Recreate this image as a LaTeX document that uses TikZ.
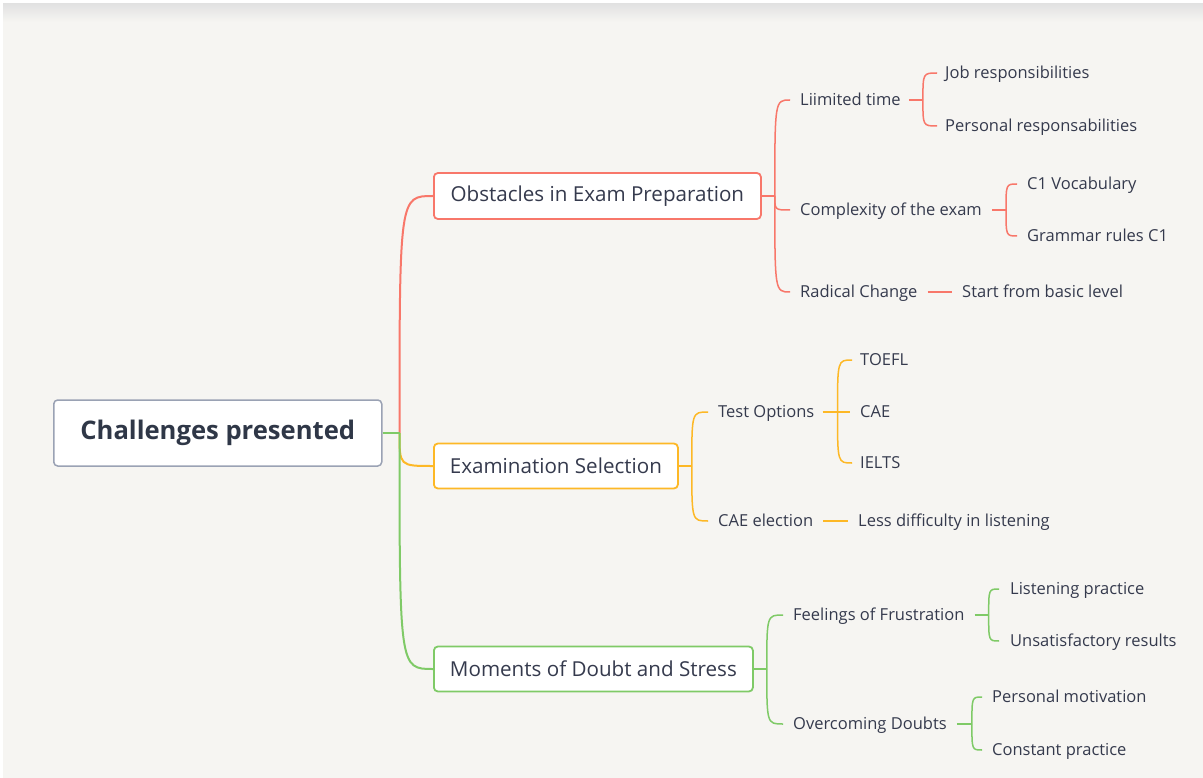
\documentclass[tikz,border=0pt]{standalone}
\usepackage{fontspec}
\setmainfont{Open Sans}
\usetikzlibrary{calc}
\definecolor{bg}{HTML}{F6F5F2}
\definecolor{shd}{HTML}{E2E2E2}
\definecolor{rd}{HTML}{F8776A}
\definecolor{yl}{HTML}{FDB826}
\definecolor{gr}{HTML}{7FCA67}
\definecolor{txt}{HTML}{353A4D}
\definecolor{roottxt}{HTML}{2F3747}
\definecolor{rootline}{HTML}{9AA2B4}
\begin{document}
\begin{tikzpicture}[x=1pt,y=-1pt,
  leaf/.style={anchor=west,inner sep=0pt,text=txt,font=\fontsize{16.5}{19}\selectfont,text height=11.8pt,text depth=0pt},
  mainbox/.style={anchor=west,draw,line width=1.8pt,rounded corners=4pt,fill=white,text=txt,font=\fontsize{20.6}{24}\selectfont,minimum height=45pt,inner sep=0pt},
  link/.style={line width=1.5pt},
  trunk/.style={line width=2pt}]
\fill[white] (0,0) rectangle (1203,778);
\fill[bg] (3,4) rectangle (1203,778);
\shade[top color=shd,bottom color=bg] (3,4) rectangle (1203,22);
\useasboundingbox (0,0) rectangle (1203,778);

% main nodes
\node[mainbox,draw=rootline,line width=1.5pt,minimum width=328pt,minimum height=66pt,text=roottxt,font=\bfseries\fontsize{25.6}{30}\selectfont] (root) at (53,433) {Challenges presented};
\node[mainbox,draw=rd,minimum width=327pt,minimum height=46pt] (obs) at (433,196) {Obstacles in Exam Preparation};
\node[mainbox,draw=yl,minimum width=244pt] (exa) at (433,466) {Examination Selection};
\node[mainbox,draw=gr,minimum width=319pt] (mom) at (433,669) {Moments of Doubt and Stress};

% leaves
\node[leaf] (lt) at (800,100) {Liimited time};
\node[leaf] (job) at (945,73) {Job responsibilities};
\node[leaf] (per) at (945,126) {Personal responsabilities};
\node[leaf] (cx) at (800,210) {Complexity of the exam};
\node[leaf] (voc) at (1027,184) {C1 Vocabulary};
\node[leaf] (gra) at (1027,236) {Grammar rules C1};
\node[leaf] (rad) at (800,292) {Radical Change};
\node[leaf] (sta) at (962,292) {Start from basic level};
\node[leaf] (tst) at (718,412) {Test Options};
\node[leaf] (toe) at (860,360) {TOEFL};
\node[leaf] (cae) at (860,412) {CAE};
\node[leaf] (iel) at (860,463) {IELTS};
\node[leaf] (cel) at (718,521) {CAE election};
\node[leaf] (les) at (858,521) {Less difficulty in listening};
\node[leaf] (fee) at (793,615) {Feelings of Frustration};
\node[leaf] (lis) at (1010,589) {Listening practice};
\node[leaf] (uns) at (1010,641) {Unsatisfactory results};
\node[leaf] (ove) at (793,724) {Overcoming Doubts};
\node[leaf] (pmo) at (992,697) {Personal motivation};
\node[leaf] (con) at (992,750) {Constant practice};

% root connectors
\coordinate (rj) at ($(root.east)+(17,0)$);
\draw[trunk,rd] (rj) .. controls (rj |- obs.west) .. (obs.west);
\draw[trunk,yl] (rj) .. controls (rj |- exa.west) .. (exa.west);
\draw[trunk,gr] (rj) .. controls (rj |- mom.west) .. (mom.west);
\draw[trunk,gr] (root.east) -- (rj);

% obstacles
\coordinate (oj) at ($(obs.east)+(13,0)$);
\draw[link,rd] (obs.east) -- (oj);
\foreach \c in {lt,cx,rad}
  \draw[link,rd] (oj) .. controls (oj |- \c.west) .. ($(\c.west)+(-10,0)$);
\coordinate (ltj) at ($(lt.east)+(22,0)$);
\draw[link,rd] ($(lt.east)+(8,0)$) -- (ltj);
\foreach \c in {job,per}
  \draw[link,rd] (ltj) .. controls (ltj |- \c.west) .. ($(\c.west)+(-8,0)$);
\coordinate (cxj) at ($(cx.east)+(24,0)$);
\draw[link,rd] ($(cx.east)+(10,0)$) -- (cxj);
\foreach \c in {voc,gra}
  \draw[link,rd] (cxj) .. controls (cxj |- \c.west) .. ($(\c.west)+(-10,0)$);
\draw[link,rd] ($(rad.east)+(10,0)$) -- ($(sta.west)+(-10,0)$);

% examination
\coordinate (ej) at ($(exa.east)+(13,0)$);
\draw[link,yl] (exa.east) -- (ej);
\foreach \c in {tst,cel}
  \draw[link,yl] (ej) .. controls (ej |- \c.west) .. ($(\c.west)+(-10,0)$);
\coordinate (tj) at ($(tst.east)+(23,0)$);
\draw[link,yl] ($(tst.east)+(8,0)$) -- ($(cae.west)+(-10,0)$);
\foreach \c in {toe,iel}
  \draw[link,yl] (tj) .. controls (tj |- \c.west) .. ($(\c.west)+(-8,0)$);
\draw[link,yl] ($(cel.east)+(10,0)$) -- ($(les.west)+(-10,0)$);

% moments
\coordinate (mj) at ($(mom.east)+(13,0)$);
\draw[link,gr] (mom.east) -- (mj);
\foreach \c in {fee,ove}
  \draw[link,gr] (mj) .. controls (mj |- \c.west) .. ($(\c.west)+(-10,0)$);
\coordinate (fj) at ($(fee.east)+(24,0)$);
\draw[link,gr] ($(fee.east)+(10,0)$) -- (fj);
\foreach \c in {lis,uns}
  \draw[link,gr] (fj) .. controls (fj |- \c.west) .. ($(\c.west)+(-11,0)$);
\coordinate (oj2) at ($(ove.east)+(25,0)$);
\draw[link,gr] ($(ove.east)+(10,0)$) -- (oj2);
\foreach \c in {pmo,con}
  \draw[link,gr] (oj2) .. controls (oj2 |- \c.west) .. ($(\c.west)+(-10,0)$);
\end{tikzpicture}
\end{document}
